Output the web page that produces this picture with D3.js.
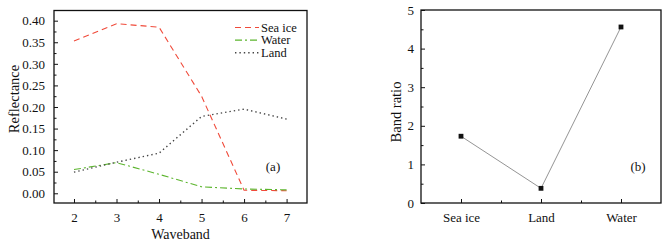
<!DOCTYPE html>
<html><head><meta charset="utf-8">
<script src="https://cdn.jsdelivr.net/npm/d3@7"></script>
</head>
<body style="margin:0;background:#fff"><svg id="c" width="671" height="245" font-family="Liberation Serif"></svg>
<script>
const wavebands = [2, 3, 4, 5, 6, 7];
const seaIce = [0.353, 0.393, 0.385, 0.225, 0.007, 0.006];
const water = [0.055, 0.071, 0.044, 0.015, 0.010, 0.008];
const land = [0.049, 0.072, 0.093, 0.178, 0.195, 0.172];
const yTicksA = [0.00, 0.05, 0.10, 0.15, 0.20, 0.25, 0.30, 0.35, 0.40];

const classes = ["Sea ice", "Land", "Water"];
const bandRatio = [1.73, 0.38, 4.56];
const yTicksB = [0, 1, 2, 3, 4, 5];

const FONT = "Liberation Serif";
const svg = d3.select("#c");

function frame(g, b){
  g.append("rect").attr("x", b.l).attr("y", b.t).attr("width", b.r-b.l).attr("height", b.b-b.t)
   .attr("fill","none").attr("stroke","#111").attr("stroke-width",1.3);
}
function styleAxis(g){
  g.attr("font-family", FONT).attr("font-size", 13);
  g.select(".domain").remove();
  g.selectAll("line").attr("stroke","#111").attr("stroke-width",1);
  g.selectAll("text").attr("font-family", FONT).attr("font-size", 13).attr("fill","#111");
}
function label(g, txt, size){
  return g.append("text").attr("font-family", FONT).attr("font-size", size).attr("fill","#111").text(txt);
}

// ---------- Panel (a) ----------
const ax = {l:54, r:307, t:10.5, b:203};
const xA = d3.scaleLinear().domain([1.53, 7.48]).range([ax.l, ax.r]);
const yA = d3.scaleLinear().domain([-0.0225, 0.4236]).range([ax.b, ax.t]);
const gA = svg.append("g");

gA.append("g").attr("transform",`translate(0,${ax.b})`)
  .call(d3.axisBottom(xA).tickValues(wavebands).tickSize(-4).tickPadding(10).tickFormat(d3.format("d")))
  .call(styleAxis);
gA.append("g").attr("transform",`translate(0,${ax.b})`)
  .call(d3.axisBottom(xA).tickValues([2.5,3.5,4.5,5.5,6.5]).tickSize(-2.5).tickFormat(""))
  .call(styleAxis);
gA.append("g").attr("transform",`translate(${ax.l},0)`)
  .call(d3.axisLeft(yA).tickValues(yTicksA).tickSize(-4).tickPadding(9).tickFormat(d3.format(".2f")))
  .call(styleAxis);
gA.append("g").attr("transform",`translate(${ax.l},0)`)
  .call(d3.axisLeft(yA).tickValues(d3.range(0.025,0.4,0.05)).tickSize(-2.5).tickFormat(""))
  .call(styleAxis);
frame(gA, ax);

const series = [
  {name:"Sea ice", vals:seaIce, color:"#f04a3a", dash:"6,4", w:1.1},
  {name:"Water", vals:water, color:"#5cb52e", dash:"7,3,2,3", w:1.1},
  {name:"Land", vals:land, color:"#444", dash:"1.4,3", w:1.4}
];
const lineA = d3.line().x((d,i)=>xA(wavebands[i])).y(d=>yA(d));
series.forEach(s=>{
  gA.append("path").attr("d", lineA(s.vals)).attr("fill","none")
    .attr("stroke", s.color).attr("stroke-width", s.w).attr("stroke-dasharray", s.dash);
});
series.forEach((s,i)=>{
  const y = 27.5 + i*12.6;
  gA.append("line").attr("x1",235).attr("x2",259).attr("y1",y).attr("y2",y)
    .attr("stroke", s.color).attr("stroke-width", s.w).attr("stroke-dasharray", s.dash);
  label(gA, s.name, 12.5).attr("x",261).attr("y",y+4.2);
});
label(gA, "(a)", 13).attr("x",273).attr("y",170.5).attr("text-anchor","middle");
label(gA, "Waveband", 14).attr("x",(ax.l+ax.r)/2).attr("y",238.5).attr("text-anchor","middle");
label(gA, "Reflectance", 14.5).attr("transform",`translate(19,99) rotate(-90)`).attr("text-anchor","middle");

// ---------- Panel (b) ----------
const bx = {l:421, r:661, t:10, b:203};
const xB = d3.scalePoint().domain(classes).range([bx.l, bx.r]).padding(0.5);
const yB = d3.scaleLinear().domain([0,5]).range([bx.b, bx.t]);
const gB = svg.append("g");
gB.append("g").attr("transform",`translate(0,${bx.b})`)
  .call(d3.axisBottom(xB).tickSize(-4).tickPadding(10))
  .call(styleAxis);
const step = xB.step();
gB.append("g").attr("transform",`translate(0,${bx.b})`)
  .call(d3.axisBottom(d3.scaleLinear().domain([bx.l,bx.r]).range([bx.l,bx.r]))
    .tickValues([xB(classes[0])+step/2, xB(classes[1])+step/2]).tickSize(-2.5).tickFormat(""))
  .call(styleAxis);
gB.append("g").attr("transform",`translate(${bx.l},0)`)
  .call(d3.axisLeft(yB).tickValues(yTicksB).tickSize(-4).tickPadding(7).tickFormat(d3.format("d")))
  .call(styleAxis);
gB.append("g").attr("transform",`translate(${bx.l},0)`)
  .call(d3.axisLeft(yB).tickValues([0.5,1.5,2.5,3.5,4.5]).tickSize(-2.5).tickFormat(""))
  .call(styleAxis);
frame(gB, bx);
const lineB = d3.line().x((d,i)=>xB(classes[i])).y(d=>yB(d));
gB.append("path").attr("d", lineB(bandRatio)).attr("fill","none").attr("stroke","#888").attr("stroke-width",0.9);
gB.selectAll("rect.m").data(bandRatio).enter().append("rect").attr("class","m")
  .attr("x",(d,i)=>xB(classes[i])-2.4).attr("y",d=>yB(d)-2.4).attr("width",4.8).attr("height",4.8).attr("fill","#111");
label(gB, "(b)", 13).attr("x",638).attr("y",170.5).attr("text-anchor","middle");
label(gB, "Band ratio", 14.5).attr("transform",`translate(401,112) rotate(-90)`).attr("text-anchor","middle");
</script></body></html>
